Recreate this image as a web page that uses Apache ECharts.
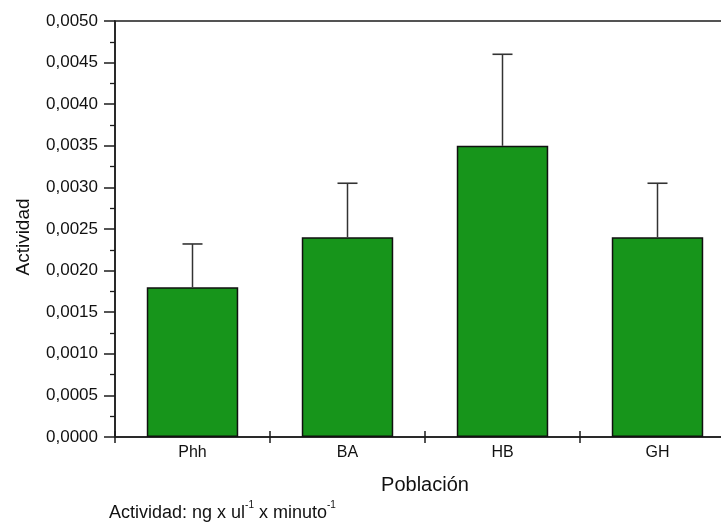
<!DOCTYPE html>
<html>
<head>
<meta charset="utf-8">
<script src="https://cdn.jsdelivr.net/npm/echarts@6/dist/echarts.min.js"></script>
<style>
  html, body { margin: 0; padding: 0; background: #fff; }
  #chart { width: 721px; height: 524px; }
</style>
</head>
<body>
<div id="chart"></div>
<script>
// Enzyme activity per population, mean and upper end of the error bar
var categories = ['Phh', 'BA', 'HB', 'GH'];
var meanValues = [0.0018, 0.0024, 0.0035, 0.0024];
var upperValues = [0.00232, 0.00305, 0.0046, 0.00305];
var yTicks = [0, 0.0005, 0.0010, 0.0015, 0.0020, 0.0025, 0.0030, 0.0035, 0.0040, 0.0045, 0.0050];

var FONT = '"Liberation Sans", Arial, sans-serif';
var INK = '#1c1c1c';
var TEXT = '#111111';

var chart = echarts.init(document.getElementById('chart'), null, { renderer: 'canvas' });

var errorData = categories.map(function (c, i) { return [i, meanValues[i], upperValues[i]]; });

chart.setOption({
  backgroundColor: '#ffffff',
  animation: false,
  grid: {
    left: 115, top: 21, width: 620, height: 416,
    outerBoundsMode: 'none',
    containLabel: false,
    show: true, borderColor: INK, borderWidth: 1.5, backgroundColor: 'transparent'
  },
  xAxis: [{
    type: 'category',
    data: categories,
    position: 'bottom',
    boundaryGap: true,
    axisLine: { lineStyle: { color: INK, width: 1.5 } },
    axisTick: { show: true, inside: false, length: 6, lineStyle: { color: INK, width: 1.5 } },
    axisLabel: { color: TEXT, fontFamily: FONT, fontSize: 16, margin: 8 },
    name: 'Población',
    nameLocation: 'middle',
    nameGap: 38,
    nameTextStyle: { color: TEXT, fontFamily: FONT, fontSize: 20 },
    splitLine: { show: false }
  }, {
    type: 'category',
    data: categories,
    position: 'bottom',
    boundaryGap: true,
    axisLine: { show: false },
    axisTick: { show: true, inside: true, length: 6, lineStyle: { color: INK, width: 1.5 } },
    axisLabel: { show: false },
    splitLine: { show: false }
  }],
  yAxis: {
    type: 'value',
    min: yTicks[0],
    max: yTicks[yTicks.length - 1],
    interval: yTicks[1] - yTicks[0],
    axisLine: { show: true, lineStyle: { color: INK, width: 1.5 } },
    axisTick: { show: true, inside: false, length: 11, lineStyle: { color: INK, width: 1.5 } },
    minorTick: { show: true, splitNumber: 2, length: 5, lineStyle: { color: INK, width: 1.3 } },
    axisLabel: {
      color: TEXT, fontFamily: FONT, fontSize: 17, margin: 17,
      formatter: function (v) { return v.toFixed(4).replace('.', ','); }
    },
    splitLine: { show: false }
  },
  series: [{
    type: 'bar',
    data: meanValues,
    barWidth: '59%',
    itemStyle: { color: '#17951b', borderColor: '#111', borderWidth: 1.5 }
  }, {
    type: 'custom',
    data: errorData,
    z: 3,
    renderItem: function (params, api) {
      var x = api.value(0);
      var base = api.coord([x, api.value(1)]);
      var top = api.coord([x, api.value(2)]);
      var half = 10;
      return {
        type: 'group',
        children: [{
          type: 'line',
          shape: { x1: base[0], y1: base[1], x2: top[0], y2: top[1] },
          style: { stroke: '#333', lineWidth: 1.5 }
        }, {
          type: 'line',
          shape: { x1: top[0] - half, y1: top[1], x2: top[0] + half, y2: top[1] },
          style: { stroke: '#333', lineWidth: 1.6 }
        }]
      };
    }
  }],
  graphic: [{
    // vertical axis title
    type: 'text',
    x: 24,
    y: 237,
    rotation: Math.PI / 2,
    style: {
      text: 'Actividad',
      fontFamily: FONT, fontSize: 19, fill: TEXT,
      align: 'center', verticalAlign: 'middle'
    }
  }, {
    // unit note under the chart
    type: 'text',
    left: 109,
    top: 500,
    style: {
      text: '{a|Actividad: ng x ul}{s|-1}{a| x minuto}{s|-1}',
      rich: {
        a: { fontFamily: FONT, fontSize: 18, fill: TEXT, lineHeight: 22, verticalAlign: 'bottom' },
        s: { fontFamily: FONT, fontSize: 10, fill: TEXT, lineHeight: 22, verticalAlign: 'top' }
      }
    }
  }]
});
</script>
</body>
</html>
